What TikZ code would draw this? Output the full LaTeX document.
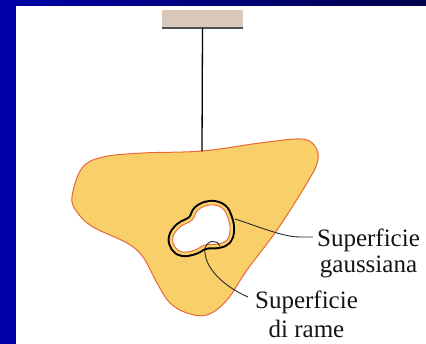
\documentclass[tikz,border=0pt]{standalone}
\usepackage{fontspec}
\setmainfont{Liberation Serif}
\definecolor{bgblue}{RGB}{0,0,168}
\definecolor{bgdark}{RGB}{0,0,75}
\definecolor{ceilc}{RGB}{218,201,187}
\definecolor{ceilline}{RGB}{80,80,80}
\definecolor{blobfill}{RGB}{249,207,106}
\definecolor{blobline}{RGB}{232,105,55}
\definecolor{txt}{RGB}{20,20,20}
\definecolor{leader}{RGB}{40,40,40}
\tikzset{
  lbl/.style={font=\fontsize{25}{27}\selectfont, text=txt, inner sep=0pt, anchor=base},
  leaderline/.style={draw=leader, line width=0.9pt},
  ceilbox/.style={draw=none, fill=ceilc, minimum width=81pt, minimum height=18pt, inner sep=0pt},
}
\begin{document}
\begin{tikzpicture}[x=1pt,y=-1pt]
\useasboundingbox (0,0) rectangle (426,344);
% background
\fill[bgblue] (0,0) rectangle (426,344);
\shade[left color=bgblue, right color=bgdark] (0,0) rectangle (426,6);
\fill[white] (16,6) rectangle (426,344);
% ceiling
\node[ceilbox] (ceil) at (202.5,19) {};
\draw[ceilline, line width=1.8pt] (ceil.south west) -- (ceil.south east);
% blob
\coordinate (attach) at (202,151.5);
\filldraw[fill=blobfill, draw=blobline, line width=1pt]
  plot[smooth cycle, tension=0.6] coordinates {
   (72,197) (82,168) (103,157) (143,153) (202,151) (260,143) (300,139)
   (314,145) (318,160) (307,183) (277,230) (247,270) (227,300) (207,315)
   (187,313) (170,303) (157,283) (143,257) (127,243) (93,227) (77,212)};
\draw[black, line width=1.3pt] (ceil.south) -- (attach);
% gaussian surface + copper hole
\def\holepath{plot[smooth cycle, tension=0.7] coordinates {
   (210,205) (222,208) (228,218) (230,230) (227,240) (218,244) (205,245)
   (195,250) (183,252) (175,247) (173,237) (180,227) (192,220) (198,210)}}
\draw[black, line width=10pt, line join=round] \holepath;
\draw[blobfill, line width=6pt, line join=round] \holepath;
\filldraw[fill=white, draw=blobline, line width=0.9pt] \holepath;
% labels
\node[lbl] (g1) at (368.5,247) {Superficie};
\node[lbl] (g2) at (368.5,273) {gaussiana};
\node[lbl] (r1) at (306.5,309) {Superficie};
\node[lbl] (r2) at (306.5,338) {di rame};
% leaders
\coordinate (gstart) at (235,219);
\coordinate (gend) at (313,237);
\draw[leaderline] (gstart) .. controls (260,227) and (283,237) .. (300,237) -- (gend);
\coordinate (rstart) at (220,246);
\coordinate (rend) at (248,297);
\draw[leaderline] (rstart) .. controls (218,240) and (208,239) .. (205,248)
  .. controls (203,268) and (225,287) .. (rend);
\end{tikzpicture}
\end{document}
